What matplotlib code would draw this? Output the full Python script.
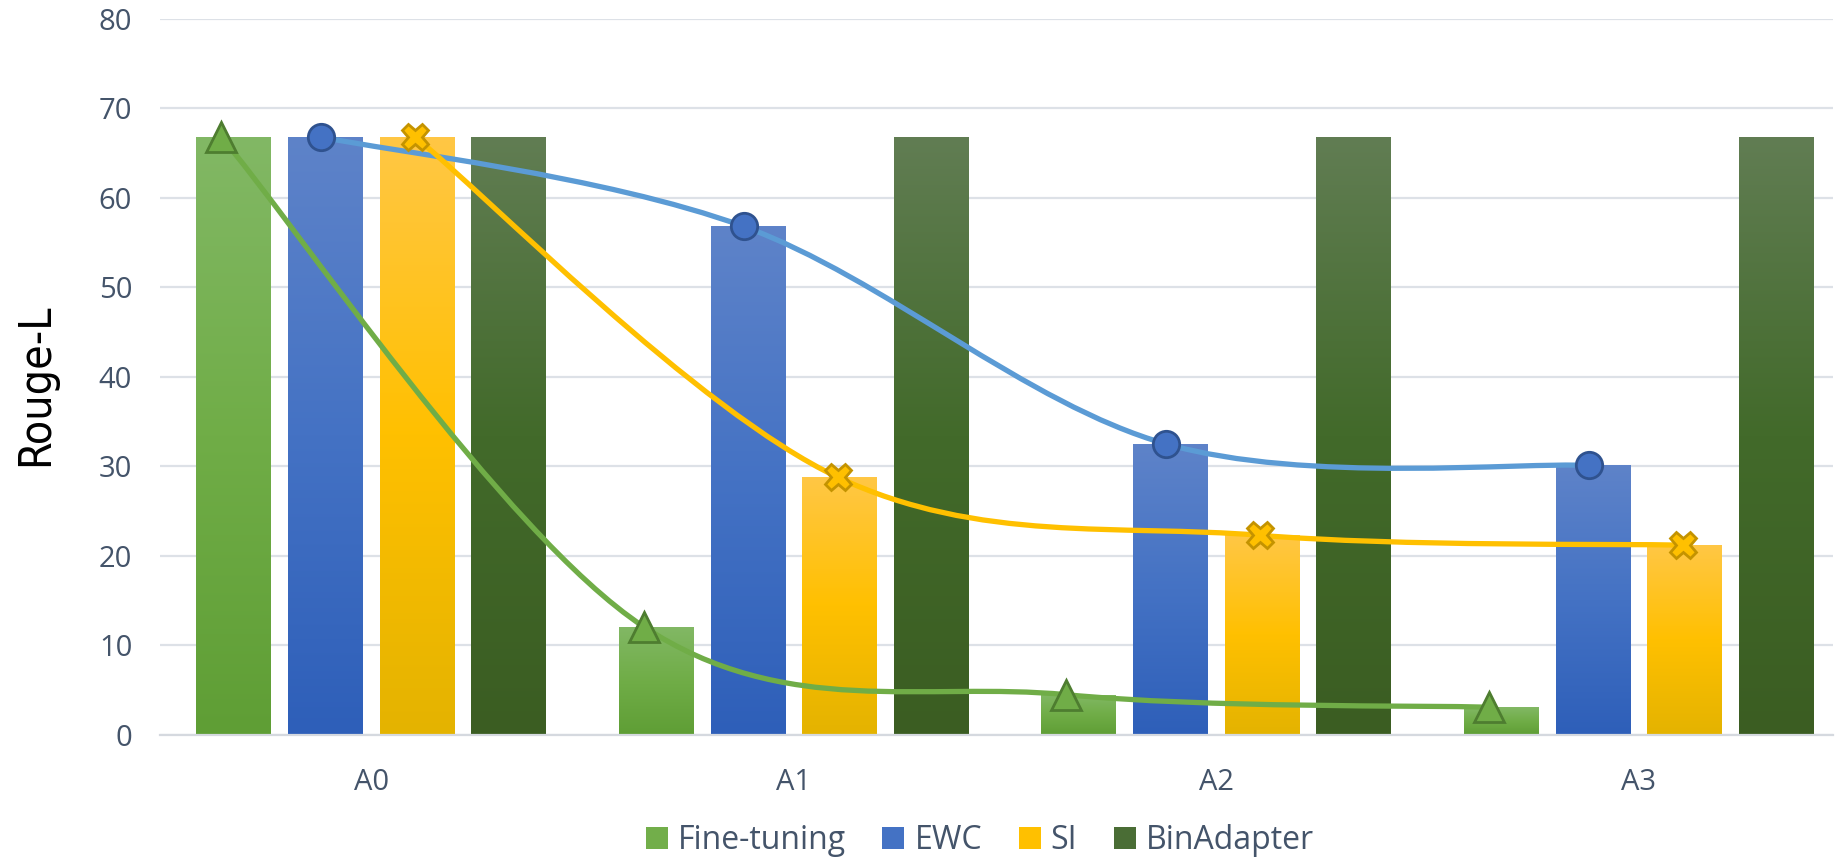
import matplotlib.pyplot as plt
import numpy as np
from matplotlib.colors import LinearSegmentedColormap
from matplotlib.patches import Patch, PathPatch
from matplotlib.path import Path

categories = ['A0', 'A1', 'A2', 'A3']
series_names = ['Fine-tuning', 'EWC', 'SI', 'BinAdapter']
finetune = [66.8, 12.1, 4.5, 3.1]
ewc = [66.8, 56.8, 32.5, 30.1]
si = [66.8, 28.8, 22.3, 21.2]
binadapter = [66.8, 66.8, 66.8, 66.8]
yticks = [0, 10, 20, 30, 40, 50, 60, 70, 80]

# gradient colours per series (top, middle, bottom)
grads = [['#82b865', '#70ad47', '#5f9e35'],
         ['#5e83c9', '#4472c4', '#2e5fb9'],
         ['#ffc745', '#ffc000', '#e4b300'],
         ['#617d53', '#426a2a', '#3b5d22']]
legend_cols = ['#72ae4a', '#4472c4', '#ffc000', '#4a6d35']

txt = '#44546a'
plt.rcParams['font.family'] = ['Open Sans', 'DejaVu Sans']

fig = plt.figure(figsize=(18.35, 8.59), dpi=100)
ax = fig.add_axes([0.0872, 0.1444, 0.9118, 0.8338])

x = np.arange(len(categories))
w = 0.177
pitch = 0.217
data = [finetune, ewc, si, binadapter]

for k, vals in enumerate(data):
    off = (k - 1.5) * pitch
    bars = ax.bar(x + off, vals, w, color='none', zorder=2)
    cmap = LinearSegmentedColormap.from_list('g%d' % k, grads[k][::-1])
    for b in bars:
        x0 = b.get_x()
        h = b.get_height()
        grad = np.linspace(0, 1, 256).reshape(-1, 1)
        im = ax.imshow(grad, cmap=cmap, extent=(x0, x0 + w, 0, h), origin='lower',
                       aspect='auto', zorder=2)
        im.set_clip_path(b)


def smooth_path(px, py):
    # Catmull-Rom style bezier, like Excel's "smoothed line"
    pts = np.column_stack([px, py])
    n = len(pts)
    verts = [pts[0]]
    codes = [Path.MOVETO]
    for i in range(n - 1):
        p_prev = pts[max(i - 1, 0)]
        p_next2 = pts[min(i + 2, n - 1)]
        c1 = pts[i] + (pts[i + 1] - p_prev) / 6.0
        c2 = pts[i + 1] - (p_next2 - pts[i]) / 6.0
        verts += [c1, c2, pts[i + 1]]
        codes += [Path.CURVE4] * 3
    return Path(verts, codes)


line_cols = ['#70ad47', '#5b9bd5', '#ffc000']
mk = [('^', '#70ad47', '#4e7d30', 22, -1.5 * pitch - 0.03),
      ('o', '#4472c4', '#2f528f', 19, -0.5 * pitch - 0.01),
      ('X', '#ffc000', '#c49300', 19, 0.5 * pitch - 0.005)]
for k, vals in enumerate(data[:3]):
    m, fc, ec, ms, off = mk[k]
    xs = x + off
    pp = PathPatch(smooth_path(xs, vals), fill=False, edgecolor=line_cols[k],
                   lw=3.8, zorder=4, capstyle='round')
    ax.add_patch(pp)
    ax.plot(xs, vals, ls='none', marker=m, ms=ms, mfc=fc, mec=ec, mew=2, zorder=5)

ax.set_xlim(-0.5, 3.46)
ax.set_ylim(0, 80)
ax.set_yticks(yticks)
ax.set_xticks(x)
ax.set_xticklabels(categories)
ax.grid(axis='y', color='#dde1e7', lw=1.6, zorder=0)
ax.set_axisbelow(True)
for s in ['top', 'right', 'left']:
    ax.spines[s].set_visible(False)
ax.spines['bottom'].set_color('#d5d9df')
ax.spines['bottom'].set_linewidth(1.6)
ax.tick_params(axis='both', length=0, labelsize=21, colors=txt)
ax.tick_params(axis='y', pad=20)
ax.tick_params(axis='x', pad=24)

fig.text(0.0196, 0.552, 'Rouge-L', rotation=90, va='center', ha='center', fontsize=32,
         family=['Liberation Sans Narrow', 'DejaVu Sans'], fontstretch='condensed',
         color='black')

handles = [Patch(facecolor=c, edgecolor='none') for c in legend_cols]
fig.legend(handles, series_names, loc='center', bbox_to_anchor=(0.534, 0.0215), ncol=4,
           frameon=False, fontsize=23, labelcolor=txt, handlelength=0.69,
           handleheight=0.66, handletextpad=0.31, columnspacing=1.15)

fig.savefig('out.png', dpi=100)
